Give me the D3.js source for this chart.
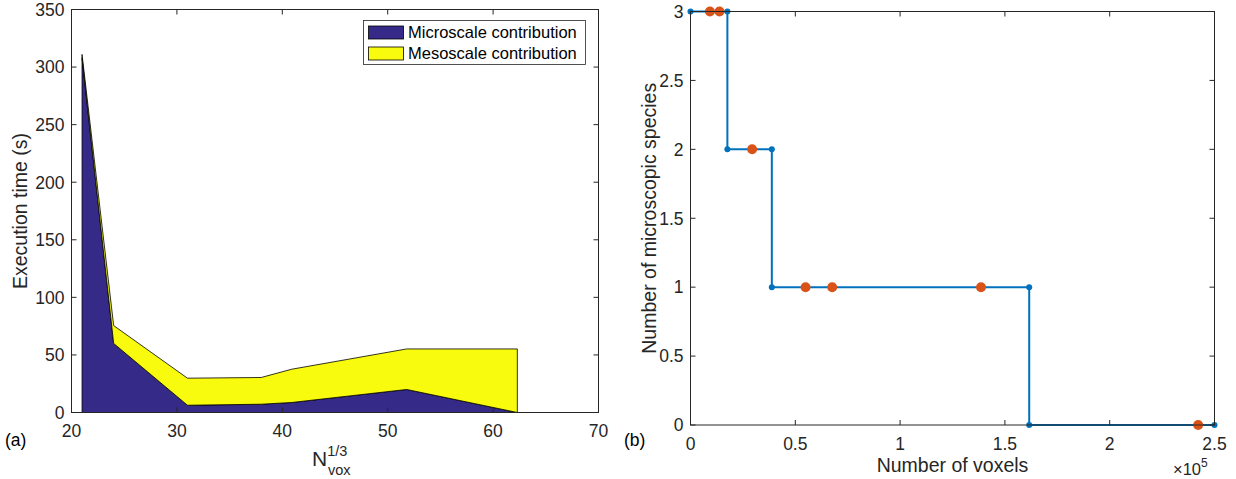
<!DOCTYPE html>
<html>
<head>
<meta charset="utf-8">
<script src="https://cdn.jsdelivr.net/npm/d3@7"></script>
<style>
  body { margin: 0; background: #fff; }
  svg { display: block; font-family: "Liberation Sans", Arial, sans-serif; }
</style>
</head>
<body>
<div id="chart"></div>
<script>
// Panel (a): execution time vs cube root of voxel count
const nVoxRoot = [21, 24, 31, 38, 40.9, 51.8, 62.3];
const microTime = [308, 60, 6.3, 7.2, 8.7, 20, 0];
const mesoTime = [3, 15.5, 23.5, 23.2, 28.9, 35.2, 55.2];
const seriesNames = ['Microscale contribution', 'Mesoscale contribution'];
const seriesColors = ['#352a87', '#f9fb0e'];
const timeTicks = [0, 50, 100, 150, 200, 250, 300, 350];
const rootTicks = [20, 30, 40, 50, 60, 70];

// Panel (b): number of microscopic species vs number of voxels
const stepVoxels = [0, 17600, 17600, 38800, 38800, 161600, 161600, 250000];
const stepSpecies = [3, 3, 2, 2, 1, 1, 0, 0];
const caseVoxels = [9261, 13824, 29400, 54900, 67600, 138600, 242200];
const caseSpecies = [3, 3, 2, 1, 1, 1, 0];
const voxelTicks = [0, 50000, 100000, 150000, 200000, 250000];
const speciesTicks = [0, 0.5, 1, 1.5, 2, 2.5, 3];

const W = 1236, H = 479;
const axisColor = '#262626';
const tickFont = 17.5;
const labelFont = 19.5;

const svg = d3.select('#chart').append('svg')
  .attr('width', W)
  .attr('height', H);

// Draws a MATLAB-like boxed axes with inward ticks on all four sides
function drawBox(g, x, y, xTicks, yTicks, xFmt, yFmt) {
  const [x0, x1] = x.range();
  const [y0, y1] = y.range(); // y0 bottom, y1 top
  const tick = 5;

  g.append('rect')
    .attr('x', x0).attr('y', y1)
    .attr('width', x1 - x0).attr('height', y0 - y1)
    .attr('fill', 'none')
    .attr('stroke', axisColor)
    .attr('stroke-width', 1);

  xTicks.forEach(t => {
    const px = x(t);
    g.append('line').attr('x1', px).attr('x2', px).attr('y1', y0).attr('y2', y0 - tick)
      .attr('stroke', axisColor);
    g.append('line').attr('x1', px).attr('x2', px).attr('y1', y1).attr('y2', y1 + tick)
      .attr('stroke', axisColor);
    g.append('text')
      .attr('x', px).attr('y', y0 + 24.5)
      .attr('text-anchor', 'middle')
      .attr('font-size', tickFont)
      .attr('fill', axisColor)
      .text(xFmt(t));
  });

  yTicks.forEach(t => {
    const py = y(t);
    g.append('line').attr('x1', x0).attr('x2', x0 + tick).attr('y1', py).attr('y2', py)
      .attr('stroke', axisColor);
    g.append('line').attr('x1', x1).attr('x2', x1 - tick).attr('y1', py).attr('y2', py)
      .attr('stroke', axisColor);
    g.append('text')
      .attr('x', x0 - 7).attr('y', py)
      .attr('dy', '0.36em')
      .attr('text-anchor', 'end')
      .attr('font-size', tickFont)
      .attr('fill', axisColor)
      .text(yFmt(t));
  });
}

// ---------- Panel (a) ----------
const xa = d3.scaleLinear().domain([20, 70]).range([71.5, 598.5]);
const ya = d3.scaleLinear().domain([0, 350]).range([412.5, 9.5]);
const ga = svg.append('g');

const totalTime = microTime.map((m, i) => m + mesoTime[i]);
const areaMicro = d3.area()
  .x((d, i) => xa(nVoxRoot[i]))
  .y0(() => ya(0))
  .y1(d => ya(d));
const areaMeso = d3.area()
  .x((d, i) => xa(nVoxRoot[i]))
  .y0((d, i) => ya(microTime[i]))
  .y1(d => ya(d));

ga.append('path')
  .datum(microTime)
  .attr('d', areaMicro)
  .attr('fill', seriesColors[0])
  .attr('stroke', '#000')
  .attr('stroke-width', 0.8)
  .attr('stroke-linejoin', 'round');

ga.append('path')
  .datum(totalTime)
  .attr('d', areaMeso)
  .attr('fill', seriesColors[1])
  .attr('stroke', '#000')
  .attr('stroke-width', 0.8)
  .attr('stroke-linejoin', 'round');

drawBox(ga, xa, ya, rootTicks, timeTicks, d3.format('d'), d3.format('d'));

// Legend
const leg = ga.append('g');
leg.append('rect')
  .attr('x', 363.5).attr('y', 20.5)
  .attr('width', 222).attr('height', 44)
  .attr('fill', '#fff')
  .attr('stroke', axisColor)
  .attr('stroke-width', 0.8);
seriesNames.forEach((name, i) => {
  const cy = 32.5 + i * 21;
  leg.append('rect')
    .attr('x', 368.5).attr('y', cy - 6.5)
    .attr('width', 35).attr('height', 13)
    .attr('fill', seriesColors[i])
    .attr('stroke', '#000')
    .attr('stroke-width', 0.8);
  leg.append('text')
    .attr('x', 408).attr('y', cy)
    .attr('dy', '0.36em')
    .attr('font-size', 16.5)
    .attr('fill', '#000')
    .text(name);
});

// Axis labels (a)
ga.append('text')
  .attr('transform', `translate(27,${(ya(0) + ya(350)) / 2}) rotate(-90)`)
  .attr('text-anchor', 'middle')
  .attr('font-size', labelFont)
  .attr('fill', axisColor)
  .text('Execution time (s)');

const xlab = ga.append('text')
  .attr('x', 312).attr('y', 466)
  .attr('font-size', 21)
  .attr('fill', axisColor);
xlab.append('tspan').text('N');
xlab.append('tspan').attr('font-size', 14.5).attr('dy', -10).text('1/3');
xlab.append('tspan').attr('font-size', 14.5).attr('x', 328).attr('dy', 19).text('vox');

ga.append('text')
  .attr('x', 5).attr('y', 446)
  .attr('font-size', tickFont)
  .attr('fill', '#000')
  .text('(a)');

// ---------- Panel (b) ----------
const xb = d3.scaleLinear().domain([0, 250000]).range([690.5, 1214.5]);
const yb = d3.scaleLinear().domain([0, 3]).range([425, 11.5]);
const gb = svg.append('g');

const blue = '#0072bd', orange = '#d95319';

gb.append('path')
  .datum(stepVoxels.map((v, i) => [v, stepSpecies[i]]))
  .attr('d', d3.line().x(d => xb(d[0])).y(d => yb(d[1])))
  .attr('fill', 'none')
  .attr('stroke', blue)
  .attr('stroke-width', 2);

gb.selectAll('circle.step')
  .data(stepVoxels.map((v, i) => [v, stepSpecies[i]]))
  .join('circle')
  .attr('class', 'step')
  .attr('cx', d => xb(d[0]))
  .attr('cy', d => yb(d[1]))
  .attr('r', 3)
  .attr('fill', blue);

gb.selectAll('circle.case')
  .data(caseVoxels.map((v, i) => [v, caseSpecies[i]]))
  .join('circle')
  .attr('class', 'case')
  .attr('cx', d => xb(d[0]))
  .attr('cy', d => yb(d[1]))
  .attr('r', 5)
  .attr('fill', orange);

drawBox(gb, xb, yb, voxelTicks, speciesTicks, d => d3.format('~g')(d / 1e5), d3.format('~g'));

gb.append('text')
  .attr('transform', `translate(656,${(yb(0) + yb(3)) / 2}) rotate(-90)`)
  .attr('text-anchor', 'middle')
  .attr('font-size', labelFont)
  .attr('fill', axisColor)
  .text('Number of microscopic species');

gb.append('text')
  .attr('x', (xb(0) + xb(250000)) / 2).attr('y', 472)
  .attr('text-anchor', 'middle')
  .attr('font-size', labelFont)
  .attr('fill', axisColor)
  .text('Number of voxels');

const mult = gb.append('text')
  .attr('x', 1173).attr('y', 475)
  .attr('font-size', 16.5)
  .attr('fill', axisColor);
mult.append('tspan').text('\u00d710');
mult.append('tspan').attr('font-size', 12).attr('dy', -8).text('5');

gb.append('text')
  .attr('x', 624).attr('y', 446)
  .attr('font-size', tickFont)
  .attr('fill', '#000')
  .text('(b)');
</script>
</body>
</html>
